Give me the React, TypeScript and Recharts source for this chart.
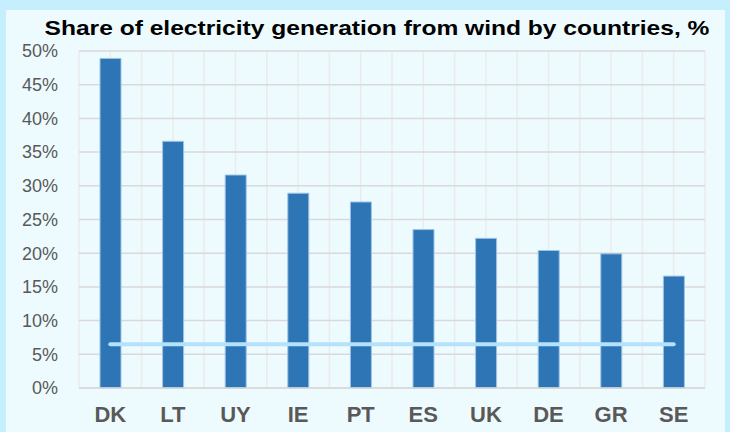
import { ComposedChart, Bar, Line, XAxis, YAxis, CartesianGrid } from 'recharts'

const countries = ['DK', 'LT', 'UY', 'IE', 'PT', 'ES', 'UK', 'DE', 'GR', 'SE']
const windShare = [48.9, 36.6, 31.6, 28.9, 27.6, 23.5, 22.2, 20.4, 19.9, 16.6]
const averageLine = [6.5, 6.5, 6.5, 6.5, 6.5, 6.5, 6.5, 6.5, 6.5, 6.5]
const yTicks = [0, 5, 10, 15, 20, 25, 30, 35, 40, 45, 50]

const data = countries.map((c, i) => ({
  country: c,
  share: windShare[i],
  avg: averageLine[i],
}))

// half-category vertical grid, like the Excel original
const halfStepLines = ({ offset }: any) => {
  const pts: number[] = []
  for (let i = 0; i <= countries.length * 2; i++) {
    pts.push(offset.left + (i * offset.width) / (countries.length * 2))
  }
  return pts
}

export default function App() {
  return (
    <div
      style={{
        position: 'fixed',
        left: 0,
        top: 0,
        width: 730,
        height: 432,
        background: '#c6effd',
        fontFamily: '"Liberation Sans", Arial, sans-serif',
      }}
    >
      <div
        style={{
          position: 'absolute',
          left: 6,
          top: 10,
          width: 719,
          height: 422,
          background: '#eefbfe',
        }}
      />
      <div
        style={{
          position: 'absolute',
          left: 377,
          top: 17,
          fontSize: 21,
          lineHeight: '21px',
          fontWeight: 'bold',
          color: '#000',
          whiteSpace: 'nowrap',
          transform: 'translateX(-50%) scaleX(1.17)',
        }}
      >
        Share of electricity generation from wind by countries, %
      </div>
      <div style={{ position: 'absolute', left: 0, top: 0 }}>
        <ComposedChart
          width={730}
          height={432}
          data={data}
          margin={{ top: 51, right: 25, bottom: 0, left: 0 }}
        >
          <CartesianGrid
            horizontal={false}
            stroke="#ebebeb"
            strokeWidth={1.5}
            verticalCoordinatesGenerator={halfStepLines}
          />
          <CartesianGrid vertical={false} stroke="#d9d9d9" strokeWidth={1.5} />
          <XAxis
            dataKey="country"
            height={44}
            axisLine={{ stroke: '#d9d9d9', strokeWidth: 1.5 }}
            tickLine={false}
            tickMargin={12}
            tick={{ fill: '#595959', fontSize: 22, fontWeight: 'bold' }}
          />
          <YAxis
            width={79}
            domain={[0, 50]}
            ticks={yTicks}
            tickFormatter={(v) => `${v}%`}
            axisLine={false}
            tickLine={false}
            tickMargin={15}
            tick={{ fill: '#595959', fontSize: 18 }}
          />
          <Bar
            dataKey="share"
            barSize={21}
            fill="#2e75b6"
            stroke="#9dc3e6"
            strokeWidth={1}
            isAnimationActive={false}
          />
          <Line
            dataKey="avg"
            type="linear"
            stroke="#b4e2fb"
            strokeWidth={4}
            strokeLinecap="round"
            dot={false}
            activeDot={false}
            isAnimationActive={false}
          />
        </ComposedChart>
      </div>
    </div>
  )
}
